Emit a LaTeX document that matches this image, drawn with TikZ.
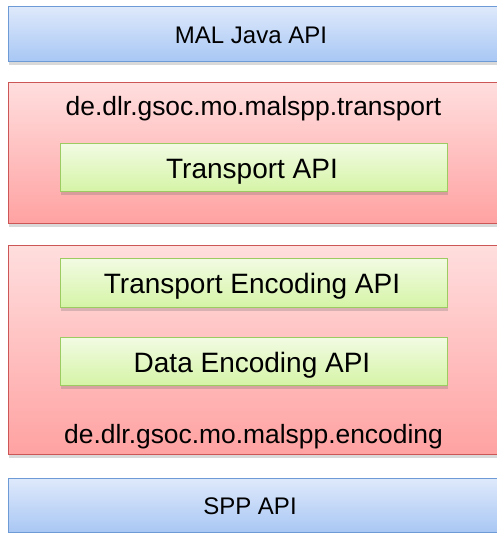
\documentclass[tikz,border=0pt]{standalone}
\usepackage{fontspec}
\setmainfont{Liberation Sans}
\usetikzlibrary{shadows}
\definecolor{bluetop}{HTML}{DEE9FB}
\definecolor{bluebot}{HTML}{A8C7F4}
\definecolor{blueline}{HTML}{6E9BD6}
\definecolor{redtop}{HTML}{FFDEDE}
\definecolor{redbot}{HTML}{FFA2A2}
\definecolor{redline}{HTML}{CC5555}
\definecolor{greentop}{HTML}{F2FBE3}
\definecolor{greenbot}{HTML}{D5F4A6}
\definecolor{greenline}{HTML}{9CCB62}
\tikzset{
  layerbox/.style={rectangle, inner sep=0pt, line width=1pt,
    drop shadow={shadow xshift=0pt, shadow yshift=-3pt, opacity=0.25, fill=black!60}},
  bluebox/.style={layerbox, draw=blueline, top color=bluetop, bottom color=bluebot},
  redbox/.style={layerbox, draw=redline, top color=redtop, bottom color=redbot},
  greenbox/.style={layerbox, draw=greenline, top color=greentop, bottom color=greenbot},
  bigtxt/.style={font=\fontsize{24}{28}\selectfont, inner sep=0pt, anchor=base},
  apitxt/.style={font=\fontsize{28}{32}\selectfont, inner sep=0pt, anchor=base},
  pkgtxt/.style={font=\fontsize{26.4}{30}\selectfont, inner sep=0pt, anchor=base}
}
\begin{document}
\begin{tikzpicture}[x=1pt,y=-1pt]
\useasboundingbox (0,0) rectangle (496,533);
% top blue
\node[bluebox, minimum width=492pt, minimum height=55pt, anchor=north west] (mal) at (8,6) {};
\node[bigtxt] (maltxt) at (251,43) {MAL Java API};
% red transport
\node[redbox, minimum width=492pt, minimum height=141pt, anchor=north west] (trans) at (8,82) {};
\node[pkgtxt] (transtxt) at (253.5,115) {de.dlr.gsoc.mo.malspp.transport};
\node[greenbox, minimum width=387pt, minimum height=48pt, anchor=north west] (tapi) at (60,143) {};
\node[apitxt] (tapitxt) at (252,178) {Transport API};
% red encoding
\node[redbox, minimum width=492pt, minimum height=209pt, anchor=north west] (enc) at (8,245) {};
\node[greenbox, minimum width=387pt, minimum height=49pt, anchor=north west] (teapi) at (60,258) {};
\node[apitxt] (teapitxt) at (252,293) {Transport Encoding API};
\node[greenbox, minimum width=387pt, minimum height=48pt, anchor=north west] (deapi) at (60,337) {};
\node[apitxt] (deapitxt) at (252,372) {Data Encoding API};
\node[pkgtxt] (enctxt) at (253.5,443) {de.dlr.gsoc.mo.malspp.encoding};
% bottom blue
\node[bluebox, minimum width=492pt, minimum height=54pt, anchor=north west] (spp) at (8,478) {};
\node[bigtxt] (spptxt) at (250,514) {SPP API};
\end{tikzpicture}
\end{document}
